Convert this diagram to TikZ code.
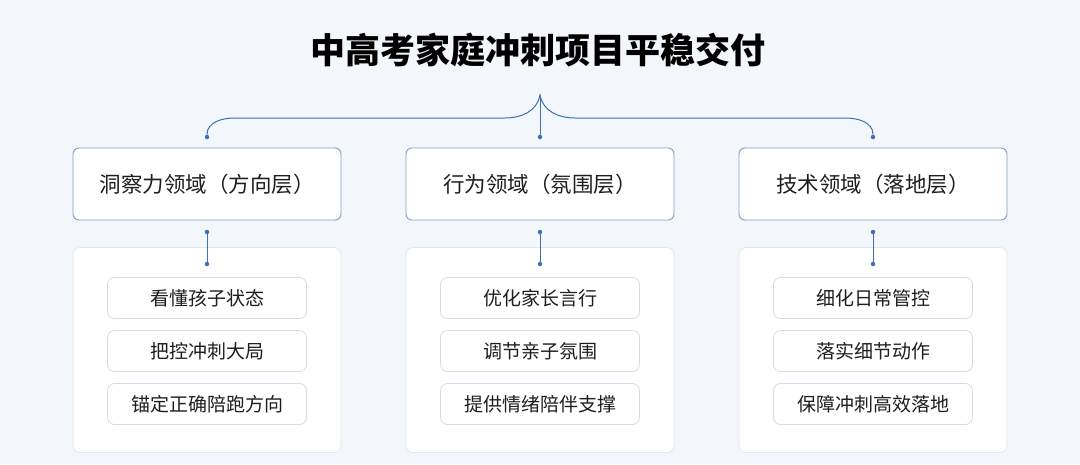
\documentclass[tikz,border=0pt]{standalone}
\usepackage{fontspec}
\newfontfamily\cjk{Noto Sans CJK SC}
\newfontfamily\cjkm{Noto Sans CJK SC Medium}
\definecolor{bg}{HTML}{F3F6FA}
\definecolor{hb}{HTML}{7E9FCC}
\definecolor{ln}{HTML}{3F6FB5}
\definecolor{pb}{HTML}{E3E8EF}
\definecolor{ib}{HTML}{D6DDE6}
\definecolor{tx}{HTML}{1E1E1E}
\begin{document}
\begin{tikzpicture}[x=1pt,y=-1pt,
  hdr/.style={draw=hb,line width=0.9pt,fill=white,rounded corners=6pt,minimum width=268pt,minimum height=72pt,font=\cjk\fontsize{21.5}{24}\selectfont,text=tx},
  pnl/.style={draw=pb,line width=0.8pt,fill=white,rounded corners=7pt,minimum width=268pt,minimum height=205pt},
  itm/.style={draw=ib,line width=0.8pt,fill=white,rounded corners=7pt,minimum width=199pt,minimum height=41pt,font=\cjk\fontsize{19}{21}\selectfont,text=tx},
  lk/.style={draw=ln,line width=1pt},
  dt/.style={circle,fill=ln,inner sep=0pt,minimum size=4.5pt}]
\fill[bg] (0,0) rectangle (1080,464);
\useasboundingbox (0,0) rectangle (1080,464);
\node[font=\cjk\bfseries\fontsize{35}{40}\selectfont,text=black] (title) at (538,50) {中高考家庭冲刺项目平稳交付};
\coordinate (tip) at (540,95);
\foreach \n/\x/\h/\a/\b/\c in {a/207/洞察力领域（方向层）/看懂孩子状态/把控冲刺大局/锚定正确陪跑方向,
  b/540/行为领域（氛围层）/优化家长言行/调节亲子氛围/提供情绪陪伴支撑,
  c/873/技术领域（落地层）/细化日常管控/落实细节动作/保障冲刺高效落地}{
  \node[hdr] (h\n) at (\x,184) {\h};
  \node[pnl] (p\n) at (\x,350) {};
  \node[itm] (i1\n) at (\x,298) {\a};
  \node[itm] (i2\n) at (\x,351) {\b};
  \node[itm] (i3\n) at (\x,404) {\c};
  \node[dt] (d\n) at (\x,137) {};
  \node[dt] (u\n) at (\x,232) {};
  \node[dt] (l\n) at (\x,264) {};
  \draw[lk] (u\n) -- (l\n);
}
\draw[lk] (da) to[out=90,in=180] (235,118) -- (505,118) to[out=0,in=-100] (tip)
  to[out=-80,in=180] (575,118) -- (845,118) to[out=0,in=90] (dc);
\draw[lk] (tip) -- (db);
\end{tikzpicture}
\end{document}
